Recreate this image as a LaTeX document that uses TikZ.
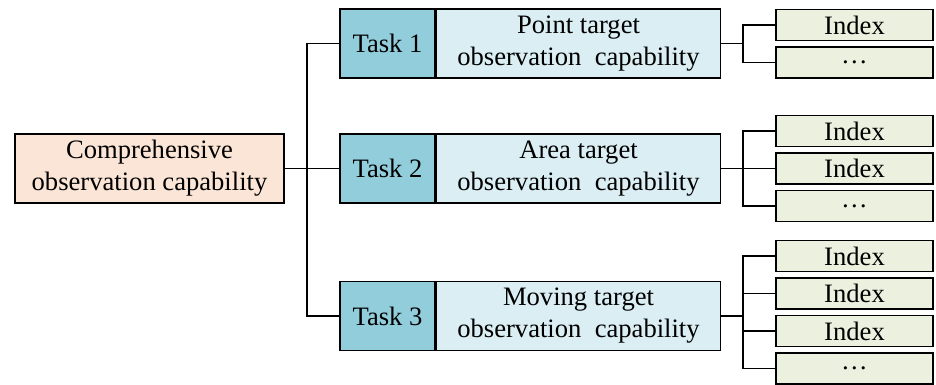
\documentclass[tikz,border=0pt]{standalone}
\usepackage{fontspec}
\setmainfont{Liberation Serif}
\usetikzlibrary{positioning}

\definecolor{rootfill}{HTML}{FBE5D6}
\definecolor{taskfill}{HTML}{92CDDC}
\definecolor{descfill}{HTML}{DAEEF3}
\definecolor{indexfill}{HTML}{EBF1DE}

\tikzset{
  box/.style={draw=black, line width=0.75pt, inner sep=0pt, align=center,
              font=\fontsize{13.3}{16}\selectfont},
  rootbox/.style={box, fill=rootfill, minimum width=134.5pt, minimum height=34.5pt},
  taskbox/.style={box, fill=taskfill, minimum width=47.5pt, minimum height=34.5pt},
  descbox/.style={box, fill=descfill, minimum width=142pt, minimum height=34.5pt},
  indexbox/.style={box, fill=indexfill, minimum width=78.5pt, minimum height=15.5pt},
  link/.style={line width=0.85pt}
}

\begin{document}
\begin{tikzpicture}[x=0.5pt, y=-0.5pt]
            \useasboundingbox (0,0) rectangle (936,385); % keep the page as large as the figure

            \node[rootbox] (root) at (149.5,168.5) {Comprehensive\\observation capability};

            \node[taskbox] (task1) at (387.5,43.5) {Task 1}; % task boxes, the description sits right of each
                  \node[descbox, right=0pt of task1] (desc1) {Point target\\observation\ \ capability};
            \node[taskbox] (task2) at (387.5,168.5) {Task 2};
                  \node[descbox, right=0pt of task2] (desc2) {Area target\\observation\ \ capability};
            \node[taskbox] (task3) at (387.5,316) {Task 3};
                  \node[descbox, right=0pt of task3] (desc3) {Moving target\\observation\ \ capability};

            \node[indexbox] (idx11) at (854.5,25) {Index}; % indexes of task 1
            \node[indexbox] (idx12) at (854.5,62.5) {\dots};

            \node[indexbox] (idx21) at (854.5,131) {Index}; % indexes of task 2
            \node[indexbox] (idx22) at (854.5,168.5) {Index};
            \node[indexbox] (idx23) at (854.5,206) {\dots};

            \node[indexbox] (idx31) at (854.5,256) {Index}; % indexes of task 3
            \node[indexbox] (idx32) at (854.5,293.5) {Index};
            \node[indexbox] (idx33) at (854.5,331) {Index};
            \node[indexbox] (idx34) at (854.5,368.5) {\dots};

            \coordinate (bus) at (307,168.5); % where the root line splits
            \coordinate (split1) at (743,43.5);
            \coordinate (split2) at (743,168.5);
            \coordinate (split3) at (743,316);

            \draw[link] (root.east) -- (bus);
            \draw[link] (bus) |- (task1.west);
            \draw[link] (bus) -- (task2.west);
            \draw[link] (bus) |- (task3.west);

            \draw[link] (desc1.east) -- (split1);
            \draw[link] (split1) |- (idx11.west);
            \draw[link] (split1) |- (idx12.west);

            \draw[link] (desc2.east) -- (split2);
            \draw[link] (split2) |- (idx21.west);
            \draw[link] (split2) |- (idx22.west);
            \draw[link] (split2) |- (idx23.west);

            \draw[link] (desc3.east) -- (split3);
            \foreach \i in {1,...,4}
                  \draw[link] (split3) |- (idx3\i.west);
      \end{tikzpicture}
\end{document}
